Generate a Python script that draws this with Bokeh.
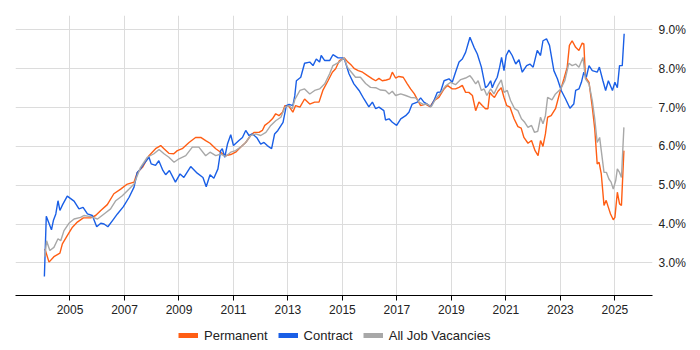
from bokeh.plotting import figure
from bokeh.layouts import column
from bokeh.models import FixedTicker, PrintfTickFormatter, Legend, LegendItem, Range1d
from bokeh.embed import file_html
from bokeh.resources import INLINE

# ---- data (decimal year, % share) ----
perm_x = [2004.08, 2004.23, 2004.41, 2004.63, 2004.72, 2004.90, 2005.09, 2005.27, 2005.49, 2005.76,
          2005.94, 2006.13, 2006.37, 2006.61, 2006.86, 2007.08, 2007.35, 2007.47, 2007.66, 2007.90,
          2008.14, 2008.33, 2008.45, 2008.63, 2008.81, 2008.94, 2009.12, 2009.37, 2009.61, 2009.80,
          2009.98, 2010.14, 2010.35, 2010.53, 2010.68, 2010.90, 2011.08, 2011.26, 2011.45, 2011.63,
          2011.75, 2011.94, 2012.06, 2012.15, 2012.30, 2012.43, 2012.55, 2012.67, 2012.80, 2012.89,
          2013.02, 2013.18, 2013.28, 2013.44, 2013.61, 2013.80, 2013.98, 2014.14, 2014.28, 2014.47,
          2014.63, 2014.75, 2014.89, 2015.07, 2015.20, 2015.34, 2015.44, 2015.58, 2015.74, 2015.92,
          2016.10, 2016.22, 2016.34, 2016.46, 2016.61, 2016.74, 2016.83, 2016.95, 2017.07, 2017.23,
          2017.38, 2017.50, 2017.64, 2017.77, 2017.87, 2018.05, 2018.21, 2018.36, 2018.54, 2018.73,
          2018.85, 2019.03, 2019.15, 2019.28, 2019.40, 2019.52, 2019.64, 2019.77, 2019.89, 2020.01,
          2020.13, 2020.25, 2020.34, 2020.41, 2020.50, 2020.58, 2020.71, 2020.83, 2020.93, 2021.03,
          2021.15, 2021.30, 2021.44, 2021.56, 2021.66, 2021.81, 2021.94, 2022.07, 2022.18, 2022.27,
          2022.36, 2022.45, 2022.53, 2022.66, 2022.82, 2022.98, 2023.13, 2023.25, 2023.33, 2023.43,
          2023.56, 2023.68, 2023.80, 2023.86, 2023.92, 2024.05, 2024.17, 2024.26, 2024.35, 2024.42,
          2024.50, 2024.60, 2024.68, 2024.76, 2024.84, 2024.94, 2025.00, 2025.09, 2025.17, 2025.24,
          2025.33]
perm_y = [3.36, 3.02, 3.16, 3.25, 3.49, 3.70, 3.92, 4.05, 4.16, 4.16,
          4.22, 4.35, 4.50, 4.78, 4.90, 5.02, 5.08, 5.33, 5.46, 5.76,
          5.94, 6.02, 5.94, 5.82, 5.81, 5.89, 5.94, 6.10, 6.23, 6.23,
          6.15, 6.08, 5.94, 5.85, 5.76, 5.79, 5.85, 5.98, 6.10, 6.28,
          6.36, 6.36, 6.41, 6.54, 6.62, 6.71, 6.84, 6.79, 6.88, 7.05,
          7.05, 6.88, 7.05, 7.01, 7.22, 7.09, 7.14, 7.14, 7.44, 7.69,
          7.91, 8.00, 8.21, 8.28, 8.17, 8.08, 8.00, 7.95, 7.91, 7.82,
          7.74, 7.69, 7.75, 7.69, 7.71, 7.74, 7.91, 7.76, 7.80, 7.78,
          7.61, 7.48, 7.35, 7.18, 7.05, 7.09, 7.02, 7.18, 7.26, 7.48,
          7.57, 7.48, 7.48, 7.52, 7.57, 7.39, 7.39, 7.31, 6.92, 7.14,
          7.05, 6.97, 6.97, 7.39, 7.31, 7.26, 7.42, 7.51, 7.26, 7.05,
          7.01, 6.71, 6.51, 6.47, 6.23, 6.08, 6.15, 5.89, 5.76, 6.15,
          6.00, 6.32, 6.75, 6.79, 6.97, 7.39, 7.74, 8.04, 8.60, 8.72,
          8.55, 8.47, 8.66, 8.64, 7.78, 7.65, 7.01, 6.45, 5.55, 5.59,
          5.29, 4.48, 4.61, 4.43, 4.26, 4.11, 4.17, 4.82, 4.52, 4.48,
          5.89]

cont_x = [2004.06, 2004.13, 2004.32, 2004.39, 2004.48, 2004.56, 2004.63, 2004.73, 2004.90, 2005.15,
          2005.33, 2005.48, 2005.64, 2005.82, 2005.98, 2006.13, 2006.25, 2006.39, 2006.56, 2006.74,
          2006.96, 2007.17, 2007.35, 2007.47, 2007.59, 2007.71, 2007.90, 2007.98, 2008.14, 2008.26,
          2008.41, 2008.51, 2008.65, 2008.87, 2009.04, 2009.18, 2009.43, 2009.67, 2009.88, 2010.00,
          2010.14, 2010.28, 2010.43, 2010.53, 2010.59, 2010.68, 2010.78, 2010.90, 2011.00, 2011.20,
          2011.33, 2011.45, 2011.57, 2011.69, 2011.85, 2012.00, 2012.12, 2012.24, 2012.40, 2012.51,
          2012.63, 2012.82, 2012.94, 2013.04, 2013.18, 2013.25, 2013.31, 2013.47, 2013.61, 2013.80,
          2013.92, 2014.04, 2014.16, 2014.22, 2014.35, 2014.53, 2014.65, 2014.84, 2015.00, 2015.08,
          2015.24, 2015.42, 2015.61, 2015.79, 2015.97, 2016.10, 2016.22, 2016.34, 2016.52, 2016.58,
          2016.71, 2016.83, 2016.99, 2017.14, 2017.32, 2017.44, 2017.56, 2017.75, 2017.87, 2017.99,
          2018.11, 2018.24, 2018.36, 2018.48, 2018.60, 2018.73, 2018.91, 2019.03, 2019.15, 2019.28,
          2019.40, 2019.52, 2019.68, 2019.83, 2019.95, 2020.10, 2020.25, 2020.34, 2020.44, 2020.50,
          2020.58, 2020.68, 2020.77, 2020.84, 2020.93, 2021.01, 2021.11, 2021.23, 2021.36, 2021.48,
          2021.60, 2021.76, 2021.88, 2022.00, 2022.15, 2022.27, 2022.36, 2022.49, 2022.60, 2022.76,
          2022.89, 2023.03, 2023.19, 2023.35, 2023.49, 2023.56, 2023.68, 2023.77, 2023.86, 2023.95,
          2024.05, 2024.17, 2024.35, 2024.43, 2024.56, 2024.66, 2024.76, 2024.91, 2025.00, 2025.09,
          2025.17, 2025.27, 2025.34]
cont_y = [2.65, 4.20, 3.85, 4.09, 4.26, 4.60, 4.35, 4.50, 4.72, 4.59,
          4.39, 4.43, 4.26, 4.22, 3.93, 4.02, 4.00, 3.93, 4.09, 4.26,
          4.45, 4.69, 4.95, 5.33, 5.42, 5.55, 5.72, 5.55, 5.51, 5.63,
          5.38, 5.27, 5.38, 5.08, 5.29, 5.20, 5.48, 5.31, 5.20, 4.96,
          5.27, 5.18, 5.42, 5.89, 5.94, 5.72, 6.06, 6.30, 6.02, 6.15,
          6.23, 6.41, 6.28, 6.32, 6.23, 6.06, 6.10, 6.02, 5.94, 6.32,
          6.41, 6.62, 7.05, 7.08, 7.05, 7.30, 7.69, 7.78, 8.14, 8.17,
          8.08, 8.25, 8.17, 8.34, 8.21, 8.21, 8.36, 8.28, 8.28, 8.23,
          7.87, 7.61, 7.44, 7.22, 7.02, 7.14, 6.97, 7.01, 6.92, 6.68,
          6.71, 6.62, 6.54, 6.71, 6.79, 6.88, 7.09, 7.14, 7.25, 7.14,
          7.09, 7.02, 7.18, 7.39, 7.40, 7.69, 7.74, 7.65, 7.91, 8.17,
          8.25, 8.42, 8.81, 8.55, 8.38, 8.04, 7.51, 7.57, 7.69, 7.51,
          7.65, 7.78, 8.04, 8.29, 7.95, 8.34, 8.48, 8.34, 8.12, 8.23,
          7.91, 8.08, 8.12, 8.04, 8.47, 8.34, 8.72, 8.77, 8.60, 7.95,
          7.74, 7.44, 7.22, 6.98, 7.09, 7.44, 7.48, 7.65, 7.91, 7.78,
          8.08, 7.95, 7.91, 8.04, 7.69, 7.44, 7.69, 7.44, 7.65, 7.51,
          8.08, 8.08, 8.90]

all_x = [2004.08, 2004.14, 2004.26, 2004.41, 2004.56, 2004.66, 2004.78, 2004.96, 2005.15, 2005.39,
         2005.51, 2005.76, 2006.01, 2006.25, 2006.49, 2006.68, 2006.92, 2007.17, 2007.35, 2007.59,
         2007.84, 2008.08, 2008.27, 2008.45, 2008.63, 2008.82, 2009.00, 2009.25, 2009.49, 2009.73,
         2009.98, 2010.14, 2010.35, 2010.53, 2010.71, 2010.90, 2011.08, 2011.26, 2011.45, 2011.63,
         2011.82, 2012.00, 2012.19, 2012.37, 2012.55, 2012.74, 2012.89, 2013.04, 2013.16, 2013.25,
         2013.44, 2013.61, 2013.80, 2013.98, 2014.16, 2014.35, 2014.53, 2014.65, 2014.88, 2015.06,
         2015.18, 2015.33, 2015.48, 2015.66, 2015.85, 2016.03, 2016.22, 2016.40, 2016.58, 2016.71,
         2016.83, 2016.95, 2017.14, 2017.32, 2017.50, 2017.69, 2017.81, 2017.97, 2018.11, 2018.26,
         2018.42, 2018.60, 2018.78, 2018.97, 2019.15, 2019.34, 2019.52, 2019.68, 2019.77, 2019.89,
         2019.98, 2020.10, 2020.20, 2020.30, 2020.44, 2020.56, 2020.71, 2020.83, 2020.93, 2021.05,
         2021.17, 2021.32, 2021.44, 2021.57, 2021.69, 2021.81, 2021.94, 2022.05, 2022.17, 2022.27,
         2022.36, 2022.45, 2022.53, 2022.69, 2022.82, 2023.01, 2023.16, 2023.31, 2023.43, 2023.56,
         2023.68, 2023.83, 2023.92, 2024.05, 2024.17, 2024.26, 2024.35, 2024.44, 2024.50, 2024.60,
         2024.69, 2024.78, 2024.86, 2024.94, 2025.03, 2025.09, 2025.17, 2025.24, 2025.33]
all_y = [3.16, 3.57, 3.32, 3.40, 3.62, 3.57, 3.83, 4.02, 4.13, 4.17,
         4.22, 4.19, 4.13, 4.26, 4.39, 4.60, 4.73, 4.90, 5.03, 5.46,
         5.72, 5.81, 5.92, 5.81, 5.72, 5.59, 5.68, 5.76, 5.98, 5.98,
         5.76, 5.85, 5.76, 5.80, 5.74, 5.85, 5.89, 5.98, 6.10, 6.28,
         6.32, 6.28, 6.36, 6.54, 6.66, 6.75, 7.01, 7.05, 6.97, 7.20,
         7.44, 7.48, 7.35, 7.44, 7.48, 7.61, 7.87, 8.08, 8.17, 8.28,
         8.04, 7.91, 7.78, 7.78, 7.62, 7.52, 7.51, 7.45, 7.44, 7.35,
         7.42, 7.31, 7.35, 7.31, 7.26, 7.25, 7.14, 7.08, 7.09, 7.02,
         7.22, 7.37, 7.55, 7.65, 7.59, 7.72, 7.76, 7.82, 7.74, 7.61,
         7.69, 7.44, 7.48, 7.31, 7.48, 7.35, 7.57, 7.71, 7.39, 7.44,
         7.18, 6.97, 6.92, 6.71, 6.62, 6.49, 6.54, 6.36, 6.39, 6.75,
         6.58, 6.79, 7.26, 7.20, 7.35, 7.48, 7.69, 8.14, 8.08, 8.12,
         8.04, 8.29, 7.74, 7.61, 7.18, 6.71, 6.10, 6.23, 5.89, 5.33,
         5.33, 5.16, 5.08, 4.90, 5.12, 5.42, 5.33, 5.20, 6.49]

year_ticks = [2005, 2007, 2009, 2011, 2013, 2015, 2017, 2019, 2021, 2023, 2025]
pct_ticks = [3, 4, 5, 6, 7, 8, 9]
series_names = ["Permanent", "Contract", "All Job Vacancies"]
series_colors = ["#FF5E14", "#1A5FE6", "#A8A8A8"]
series_data = [(perm_x, perm_y), (cont_x, cont_y), (all_x, all_y)]

FONT = "Liberation Sans"

x_range = Range1d(2003.0, 2026.38)
y_range = Range1d(2.16, 9.37)

p = figure(frame_width=637, frame_height=280, output_backend="svg", toolbar_location=None,
           x_range=x_range, y_range=y_range,
           y_axis_location="right", min_border_left=15, min_border_top=15,
           min_border_right=48, min_border_bottom=25)
p.outline_line_color = None
p.background_fill_color = "white"
p.border_fill_color = "white"

for (xs, ys), c in zip(series_data, series_colors):
    p.line(xs, ys, line_color=c, line_width=1.4)

xa = p.xaxis[0]
xa.ticker = FixedTicker(ticks=year_ticks)
xa.minor_tick_line_color = None
xa.axis_line_color = "black"
xa.major_tick_line_color = "black"
xa.major_tick_out = 5
xa.major_tick_in = 0
xa.major_label_text_font = FONT
xa.major_label_text_font_size = "12px"
xa.major_label_text_color = "#222222"
xa.major_label_standoff = 4

ya = p.yaxis[0]
ya.ticker = FixedTicker(ticks=pct_ticks)
ya.formatter = PrintfTickFormatter(format="%.1f%%")
ya.axis_line_color = None
ya.major_tick_line_color = None
ya.minor_tick_line_color = None
ya.major_tick_out = 0
ya.major_tick_in = 0
ya.major_label_standoff = 6
ya.major_label_text_font = FONT
ya.major_label_text_font_size = "12px"
ya.major_label_text_color = "#222222"

p.xgrid.ticker = FixedTicker(ticks=year_ticks)
p.ygrid.ticker = FixedTicker(ticks=pct_ticks)
p.xgrid.grid_line_color = "#dcdcdc"
p.ygrid.grid_line_color = "#dcdcdc"

# ---- legend strip (separate small figure below; its lines are out of its view) ----
lg = figure(width=700, height=30, output_backend="svg", toolbar_location=None,
            x_range=Range1d(0, 1), y_range=Range1d(0, 1),
            min_border_left=0, min_border_right=0, min_border_top=0, min_border_bottom=0)
lg.axis.visible = False
lg.grid.visible = False
lg.outline_line_color = None
lg.border_fill_color = "white"
sw = [lg.line(xs, ys, line_color=c, line_width=5) for (xs, ys), c in zip(series_data, series_colors)]

legend = Legend(items=[LegendItem(label=n, renderers=[r]) for n, r in zip(series_names, sw)],
                orientation="horizontal", location=(163, 7),
                glyph_width=20, glyph_height=14, label_height=16, label_standoff=6, spacing=10,
                padding=0, margin=0, border_line_color=None,
                label_text_font=FONT, label_text_font_size="13px", label_text_color="#222222",
                background_fill_alpha=0)
lg.add_layout(legend)

layout = column(p, lg, spacing=0)
open("out.html", "w").write(file_html(layout, INLINE))
